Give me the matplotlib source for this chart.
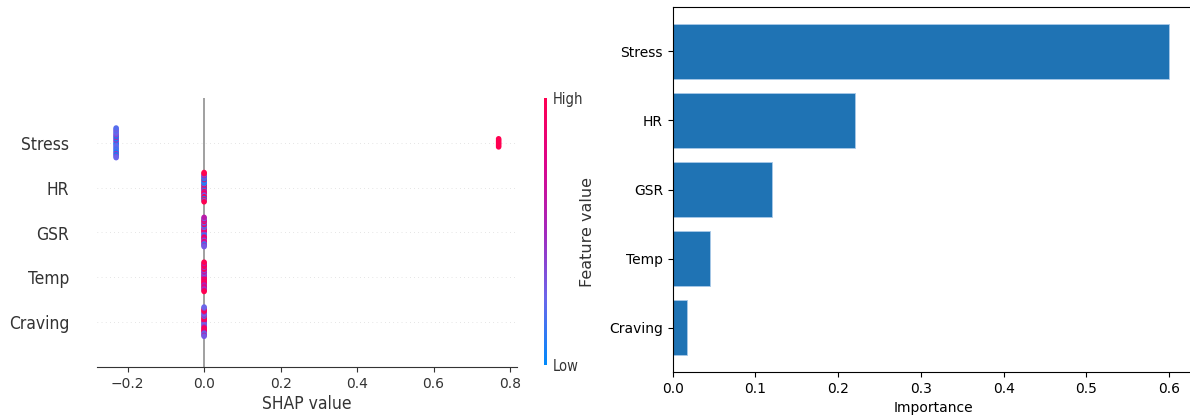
import numpy as np
import matplotlib
matplotlib.use("Agg")
import matplotlib.pyplot as plt
from matplotlib.colors import LinearSegmentedColormap
from matplotlib.cm import ScalarMappable

features = ["Craving", "Temp", "GSR", "HR", "Stress"]  # bottom to top

# SHAP values per sample (30 samples)
stress_shap = [-0.23, -0.23, -0.23, -0.23, -0.23, -0.23, -0.23, -0.23, -0.23, -0.23,
               -0.23, -0.23, -0.23, -0.23, -0.23, -0.23, -0.23, -0.23, -0.23, -0.23,
               -0.23, -0.23, -0.23, 0.77, 0.77, 0.77, 0.77, 0.77, 0.77, 0.77]
flat_shap = [0.0, 0.0, 0.0, 0.0, 0.0, 0.0, 0.0, 0.0, 0.0, 0.0,
             0.0, 0.0, 0.0, 0.0, 0.0, 0.0, 0.0, 0.0, 0.0, 0.0,
             0.0, 0.0, 0.0, 0.0, 0.0, 0.0, 0.0, 0.0, 0.0, 0.0]

# normalised feature values (colour)
stress_val = [0.2, 0.3, 0.0, 0.45, 0.2, 0.05, 0.25, 0.5, 0.2, 0.0,
              0.15, 0.4, 0.2, 0.3, 0.05, 0.25, 0.45, 0.2, 0.0, 0.3,
              0.35, 0.2, 0.25, 1.0, 1.0, 1.0, 1.0, 1.0, 1.0, 1.0]
hr_val = [0.2, 1.0, 0.9, 0.0, 0.6, 1.0, 0.1, 0.3, 0.95, 0.0,
          0.7, 0.15, 1.0, 0.05, 0.5, 0.9, 0.25, 0.0, 1.0, 0.4,
          0.85, 0.1, 0.0, 0.6, 1.0, 0.3, 0.3, 1.0, 1.0, 1.0]
gsr_val = [0.6, 0.9, 0.2, 1.0, 0.3, 0.7, 0.1, 0.95, 0.5, 0.25,
           1.0, 0.4, 0.8, 0.15, 0.65, 1.0, 0.3, 0.55, 0.9, 0.2,
           0.7, 1.0, 0.35, 0.6, 0.1, 0.85, 0.45, 0.25, 0.3, 0.6]
temp_val = [1.0, 0.7, 0.9, 0.4, 1.0, 0.6, 0.8, 0.3, 1.0, 0.55,
            0.9, 0.65, 1.0, 0.35, 0.75, 0.95, 0.5, 1.0, 0.7, 0.45,
            0.85, 1.0, 0.6, 0.9, 0.4, 1.0, 0.75, 0.55, 1.0, 1.0]
craving_val = [0.3, 1.0, 0.2, 0.8, 0.4, 1.0, 0.25, 0.9, 0.35, 1.0,
               0.6, 0.2, 0.95, 0.5, 1.0, 0.3, 0.85, 0.25, 1.0, 0.45,
               0.7, 1.0, 0.3, 0.9, 0.2, 1.0, 0.55, 0.35, 0.3, 0.25]

shap_rows = [flat_shap, flat_shap, flat_shap, flat_shap, stress_shap]
val_rows = [craving_val, temp_val, gsr_val, hr_val, stress_val]

# feature importance (right panel)
imp_features = ["Craving", "Temp", "GSR", "HR", "Stress"]
importance = [0.017, 0.045, 0.12, 0.22, 0.60]

red_blue = LinearSegmentedColormap.from_list("red_blue", [
    (0.0, (0.0, 0.543, 0.983)),
    (0.25, (0.42, 0.40, 0.92)),
    (0.5, (0.64, 0.16, 0.74)),
    (0.75, (0.86, 0.02, 0.55)),
    (1.0, (1.0, 0.0, 0.318)),
])


def beeswarm_offsets(shaps, row_height=0.4, nbins=100):
    shaps = np.asarray(shaps, dtype=float)
    quant = np.round(nbins * (shaps - shaps.min()) / (shaps.max() - shaps.min() + 1e-8))
    inds = np.argsort(quant, kind="stable")
    ys = np.zeros(len(shaps))
    layer = 0
    last_bin = -1
    for ind in inds:
        if quant[ind] != last_bin:
            layer = 0
        ys[ind] = np.ceil(layer / 2) * ((layer % 2) * 2 - 1)
        layer += 1
        last_bin = quant[ind]
    ys *= 0.9 * (row_height / np.max(ys + 1))
    return ys


fig = plt.figure(figsize=(11.9, 4.16), dpi=100)

# ---- left: SHAP summary ----
ax1 = fig.add_axes([97 / 1190, 1 - 367 / 416, 420 / 1190, 269 / 416])
ax1.axvline(0, color="#999999", lw=1.3, zorder=-1)
for pos, (sv, fv) in enumerate(zip(shap_rows, val_rows)):
    ax1.axhline(pos, color="#cccccc", lw=0.5, dashes=(1, 5), zorder=-1)
    ys = pos + beeswarm_offsets(sv)
    ax1.scatter(sv, ys, c=fv, cmap=red_blue, vmin=0, vmax=1, s=16,
                linewidths=0, zorder=3)
ax1.set_ylim(-1, len(features))
ax1.set_xlim(-0.28, 0.818)
ax1.set_yticks(range(len(features)))
ax1.set_yticklabels(features, fontsize=12.5, color="#333333", fontstretch="condensed")
ax1.tick_params(axis="y", length=0, pad=20)
ax1.tick_params(axis="x", labelsize=10, colors="#333333")
ax1.set_xticks([-0.2, 0.0, 0.2, 0.4, 0.6, 0.8])
for s in ["top", "right", "left"]:
    ax1.spines[s].set_visible(False)
ax1.spines["bottom"].set_color("#333333")
ax1.set_xlabel("SHAP value", fontsize=12.5, color="#333333", labelpad=3,
               fontstretch="condensed")

cax = fig.add_axes([544 / 1190, 1 - 365 / 416, 3 / 1190, 267 / 416])
sm = ScalarMappable(cmap=red_blue)
sm.set_array([0, 1])
cb = fig.colorbar(sm, cax=cax, ticks=[0, 1])
cb.set_ticklabels(["Low", "High"])
cb.ax.tick_params(labelsize=10.5, length=0, pad=4, colors="#333333")
for lbl in cb.ax.get_yticklabels():
    lbl.set_fontstretch("condensed")
cb.outline.set_visible(False)
fig.text(587 / 1190, 1 - 232 / 416, "Feature value", rotation=90, fontsize=11.5,
         ha="center", va="center", color="#333333")

# ---- right: importance bars ----
ax2 = fig.add_axes([672.6 / 1190, 1 - 372 / 416, 521.3 / 1190, 365 / 416])
ax2.barh(imp_features, importance, color="#1f73b4", edgecolor="#a9c9e8", linewidth=0.6)
ax2.set_xlabel("Importance")
ax2.spines["right"].set_visible(False)

fig.savefig("out.png", dpi=100)
